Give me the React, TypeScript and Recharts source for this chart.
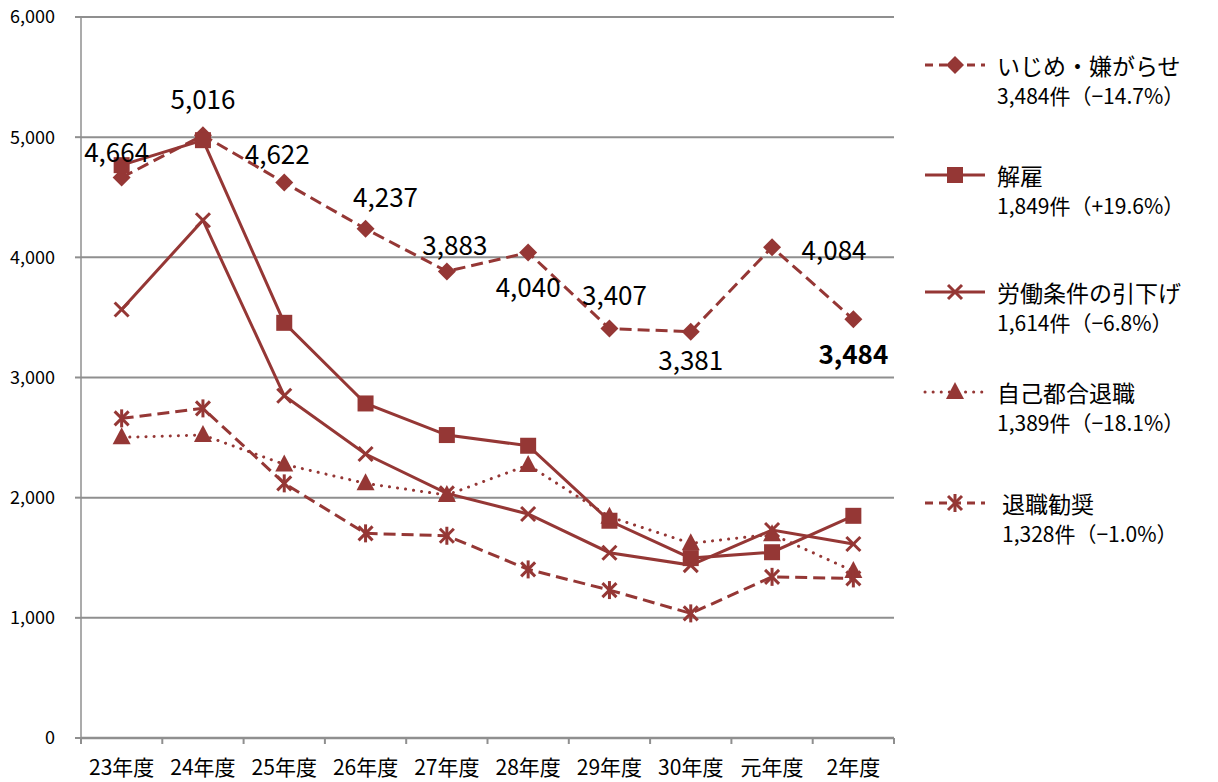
import { LineChart, Line, XAxis, YAxis, CartesianGrid, LabelList } from "recharts";

const YEARS = ["23年度", "24年度", "25年度", "26年度", "27年度", "28年度", "29年度", "30年度", "元年度", "2年度"];

const IJIME = [4664, 5016, 4622, 4237, 3883, 4040, 3407, 3381, 4084, 3484];
const KAIKO = [4767, 4975, 3455, 2784, 2521, 2432, 1808, 1497, 1546, 1849];
const HIKISAGE = [3566, 4309, 2848, 2363, 2036, 1864, 1542, 1439, 1731, 1614];
const JIKO = [2502, 2521, 2277, 2119, 2022, 2271, 1841, 1620, 1696, 1389];
const KANSHO = [2660, 2743, 2119, 1703, 1683, 1403, 1231, 1037, 1341, 1328];

const SERIES_NAMES = ["いじめ・嫌がらせ", "解雇", "労働条件の引下げ", "自己都合退職", "退職勧奨"];
const SERIES_SUMMARY = [
  "3,484件（−14.7%）",
  "1,849件（+19.6%）",
  "1,614件（−6.8%）",
  "1,389件（−18.1%）",
  "1,328件（−1.0%）",
];
const Y_TICKS = [0, 1000, 2000, 3000, 4000, 5000, 6000];

// label placement for the いじめ series, relative to each point
const LABEL_OFFSETS: [number, number][] = [
  [-5, -27], [0, -38], [-7, -30], [20, -33], [8, -28],
  [0, 33], [5, -35], [0, 27], [62, 1], [0, 33],
];

const COLOR = "#953735";
const GRID = "#8f8f8f";
const FONT = "'Noto Sans CJK JP', 'Noto Sans', sans-serif";
const KEYS = ["ijime", "kaiko", "hikisage", "jiko", "kansho"];
const DASHES = ["12 6", undefined, undefined, "0.1 8", "12 6"];
const LEGEND_TOPS = [50, 160, 277, 377, 488];

const data = YEARS.map((year, i) => ({
  year,
  ijime: IJIME[i],
  kaiko: KAIKO[i],
  hikisage: HIKISAGE[i],
  jiko: JIKO[i],
  kansho: KANSHO[i],
}));

function Marker({ kind, cx, cy }: { kind: number; cx: number; cy: number }) {
  if (kind === 0) {
    const r = 9;
    return <polygon points={`${cx},${cy - r} ${cx + r},${cy} ${cx},${cy + r} ${cx - r},${cy}`} fill={COLOR} />;
  }
  if (kind === 1) {
    return <rect x={cx - 8} y={cy - 8} width={16} height={16} fill={COLOR} />;
  }
  if (kind === 2) {
    const r = 7;
    return (
      <g stroke={COLOR} strokeWidth={3}>
        <line x1={cx - r} y1={cy - r} x2={cx + r} y2={cy + r} />
        <line x1={cx - r} y1={cy + r} x2={cx + r} y2={cy - r} />
      </g>
    );
  }
  if (kind === 3) {
    return <polygon points={`${cx},${cy - 10} ${cx + 9},${cy + 7} ${cx - 9},${cy + 7}`} fill={COLOR} />;
  }
  const r = 7;
  return (
    <g stroke={COLOR} strokeWidth={3}>
      <line x1={cx - r} y1={cy - r} x2={cx + r} y2={cy + r} />
      <line x1={cx - r} y1={cy + r} x2={cx + r} y2={cy - r} />
      <line x1={cx} y1={cy - 9} x2={cx} y2={cy + 9} />
    </g>
  );
}

const makeDot = (kind: number) => (props: any) => {
  const { cx, cy, index } = props;
  if (cx == null || cy == null) return <g key={index} />;
  return <Marker key={index} kind={kind} cx={cx} cy={cy} />;
};

const renderIjimeLabel = (props: any) => {
  const { x, y, value, index } = props;
  const [dx, dy] = LABEL_OFFSETS[index] ?? [0, -25];
  return (
    <text
      x={x + dx}
      y={y + dy}
      textAnchor="middle"
      dominantBaseline="central"
      fontSize={26}
      fontFamily={FONT}
      fontWeight={index === YEARS.length - 1 ? 700 : 400}
      fill="#000"
    >
      {Number(value).toLocaleString("en-US")}
    </text>
  );
};

const renderXTick = (props: any) => {
  const { x, y, payload, index } = props;
  const half = 40.65;
  return (
    <g>
      <line x1={x - half} y1={y} x2={x - half} y2={y + 6} stroke={GRID} strokeWidth={2} />
      {index === YEARS.length - 1 && (
        <line x1={x + half} y1={y} x2={x + half} y2={y + 6} stroke={GRID} strokeWidth={2} />
      )}
      <text x={x} y={y + 37} textAnchor="middle" fontSize={21} fontFamily={FONT} fill="#000">
        {payload.value}
      </text>
    </g>
  );
};

function ChartLegend() {
  return (
    <div style={{ position: "absolute", left: 922, top: 0, width: 296, fontFamily: FONT, color: "#000" }}>
      {SERIES_NAMES.map((name, i) => (
        <div key={name} style={{ position: "absolute", top: LEGEND_TOPS[i], left: 0, display: "flex", alignItems: "flex-start" }}>
          <svg width={66} height={30} style={{ flexShrink: 0 }}>
            <line
              x1={3}
              y1={15}
              x2={63}
              y2={15}
              stroke={COLOR}
              strokeWidth={3}
              strokeDasharray={i === 0 || i === 4 ? "8 6" : DASHES[i]}
              strokeLinecap={i === 3 ? "round" : "butt"}
            />
            <Marker kind={i} cx={33} cy={15} />
          </svg>
          <div style={{ marginLeft: 9 + (i === 4 ? 5 : 0), lineHeight: "30px", whiteSpace: "nowrap" }}>
            <div style={{ fontSize: 23 }}>{name}</div>
            <div style={{ fontSize: 21 }}>{SERIES_SUMMARY[i]}</div>
          </div>
        </div>
      ))}
    </div>
  );
}

export default function App() {
  return (
    <div style={{ position: "absolute", left: 0, top: 0, width: 1218, height: 782, background: "#fff" }}>
      <LineChart width={1218} height={782} data={data} margin={{ top: 17, right: 324, bottom: 0, left: 11 }}>
        <CartesianGrid vertical={false} stroke={GRID} strokeWidth={2} />
        <XAxis
          dataKey="year"
          scale="band"
          height={44}
          tickLine={false}
          tickSize={0}
          tickMargin={0}
          axisLine={{ stroke: GRID, strokeWidth: 2.5 }}
          tick={renderXTick}
          interval={0}
        />
        <YAxis
          width={70}
          domain={[0, 6000]}
          ticks={Y_TICKS}
          tickSize={6}
          tickMargin={20}
          tickLine={{ stroke: GRID, strokeWidth: 2 }}
          axisLine={{ stroke: GRID, strokeWidth: 1.5 }}
          tick={{ fill: "#000", fontSize: 18, fontFamily: FONT }}
          tickFormatter={(v: number) => v.toLocaleString("en-US")}
        />
        {KEYS.map((k, i) => (
          <Line
            key={k}
            dataKey={k}
            name={SERIES_NAMES[i]}
            stroke={COLOR}
            strokeWidth={3}
            strokeDasharray={DASHES[i]}
            strokeLinecap={i === 3 ? "round" : "butt"}
            dot={makeDot(i)}
            activeDot={false}
            isAnimationActive={false}
          >
            {i === 0 && <LabelList dataKey={k} content={renderIjimeLabel} />}
          </Line>
        ))}
      </LineChart>
      <ChartLegend />
    </div>
  );
}
